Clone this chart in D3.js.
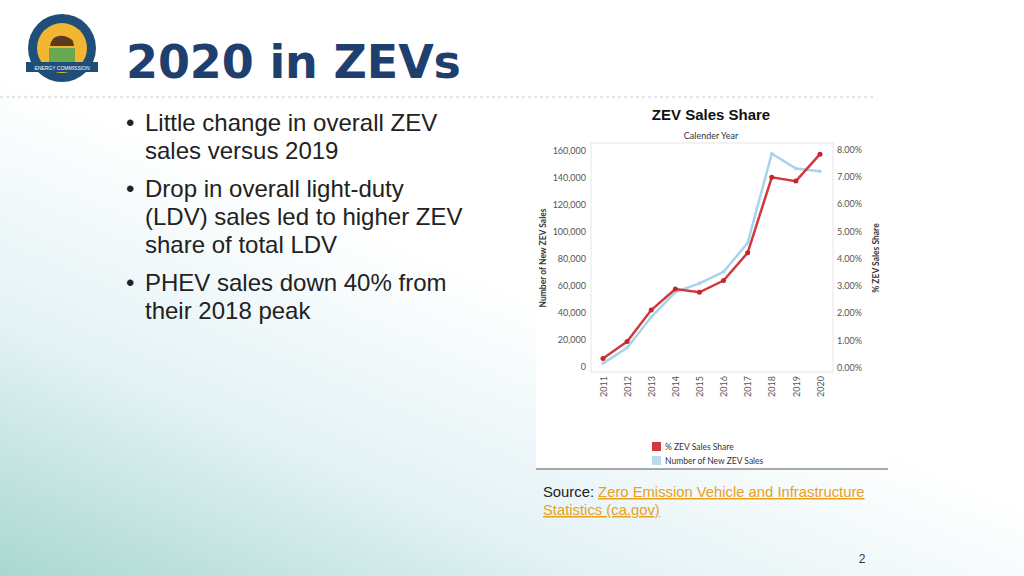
<!DOCTYPE html>
<html><head><meta charset="utf-8">
<script src="https://cdn.jsdelivr.net/npm/d3@7/dist/d3.min.js"></script>
<style>body{margin:0;overflow:hidden}svg{display:block}</style></head>
<body><svg id="s" width="1024" height="576"></svg>
<script>
const years = [2011,2012,2013,2014,2015,2016,2017,2018,2019,2020];
const shareValues = [0.33,0.95,2.11,2.88,2.76,3.19,4.21,6.98,6.84,7.83];
const salesValues = [2700,14300,37000,55500,62000,70500,92000,158000,147000,145000];
const leftTicks = [0,20000,40000,60000,80000,100000,120000,140000,160000];
const rightTicks = [0,1,2,3,4,5,6,7,8];
const bullets = [["Little change in overall ZEV","sales versus 2019"],["Drop in overall light-duty","(LDV) sales led to higher ZEV","share of total LDV"],["PHEV sales down 40% from","their 2018 peak"]];

const svg = d3.select("#s");
const defs = svg.append("defs");
const g1 = defs.append("linearGradient").attr("id","bg").attr("x1","0").attr("y1","1").attr("x2","0.6").attr("y2","0.2");
g1.append("stop").attr("offset","0").attr("stop-color","#a9d8cf");
g1.append("stop").attr("offset","0.35").attr("stop-color","#e3f2f5");
g1.append("stop").attr("offset","0.7").attr("stop-color","#ffffff");
svg.append("rect").attr("width",1024).attr("height",576).attr("fill","url(#bg)");
svg.append("rect").attr("x",536).attr("y",100).attr("width",352).attr("height",369).attr("fill","#fff");

// header
svg.append("line").attr("x1",0).attr("x2",875).attr("y1",97).attr("y2",97).attr("stroke","#ccc").attr("stroke-dasharray","3,3");
const lg = svg.append("g").attr("transform","translate(62,48)");
lg.append("circle").attr("r",34).attr("fill","#1f4e79");
lg.append("circle").attr("r",25).attr("fill","#f2b632");
lg.append("rect").attr("x",-13).attr("y",0).attr("width",26).attr("height",14).attr("fill","#6aa84f");
lg.append("rect").attr("x",-36).attr("y",14).attr("width",72).attr("height",10).attr("fill","#1f4e79");
lg.append("text").attr("y",22).attr("text-anchor","middle").attr("font-size",5).attr("fill","#fff").attr("font-family","Liberation Sans").text("ENERGY COMMISSION");
lg.append("path").attr("d","M-12,-2 Q-10,-14 2,-12 Q12,-10 12,-2 Z").attr("fill","#5b3a1e");
svg.append("text").attr("x",126).attr("y",78).attr("font-family","DejaVu Sans").attr("font-weight","bold").attr("font-size",46).attr("textLength",335).attr("fill","#1f3f6e").text("2020 in ZEVs");

// bullets
let y = 131;
bullets.forEach(b=>{
  b.forEach((l,i)=>{
    if(i===0) svg.append("text").attr("x",126).attr("y",y).attr("font-family","Liberation Sans, Arial").attr("font-size",24).attr("fill","#222").text("•");
    svg.append("text").attr("x",145).attr("y",y).attr("font-family","Liberation Sans, Arial").attr("font-size",24).attr("fill","#222").text(l);
    y += 28;
  });
  y += 10;
});

// chart
const x = d3.scalePoint().domain(years).range([603,820]);
const yL = d3.scaleLinear().domain([0,160000]).range([367,151]);
const yR = d3.scaleLinear().domain([0,8]).range([367.5,149.5]);
svg.append("rect").attr("x",591).attr("y",143).attr("width",242).attr("height",229).attr("fill","none").attr("stroke","#e6e6e6");
const f = "Lato, Open Sans, sans-serif";
svg.append("text").attr("x",711).attr("y",120).attr("text-anchor","middle").attr("font-family","Liberation Sans").attr("font-weight","bold").attr("font-size",15).attr("fill","#111").text("ZEV Sales Share");
svg.append("text").attr("x",711).attr("y",139).attr("text-anchor","middle").attr("font-family",f).attr("font-size",9).attr("fill","#333").text("Calender Year");
const aL = svg.append("g").attr("transform","translate(591,0)").call(d3.axisLeft(yL).tickValues(leftTicks).tickFormat(d3.format(",")).tickSize(0).tickPadding(5));
const aR = svg.append("g").attr("transform","translate(833,0)").call(d3.axisRight(yR).tickValues(rightTicks).tickFormat(d=>d.toFixed(2)+"%").tickSize(0).tickPadding(4));
const aX = svg.append("g").attr("transform","translate(0,372)").call(d3.axisBottom(x).tickSize(0).tickPadding(4));
aX.selectAll("text").attr("transform","rotate(-90)").attr("text-anchor","end").attr("x",-4).attr("y",0).attr("dy","0.35em");
[aL,aR,aX].forEach(a=>{a.select(".domain").remove();a.selectAll("text").attr("font-family",f).attr("font-size",9).attr("fill","#555");});
svg.append("text").attr("transform","translate(546,258) rotate(-90)").attr("text-anchor","middle").attr("font-family",f).attr("font-weight","bold").attr("font-size",8.5).attr("fill","#333").text("Number of New ZEV Sales");
svg.append("text").attr("transform","translate(879,258) rotate(-90)").attr("text-anchor","middle").attr("font-family",f).attr("font-weight","bold").attr("font-size",8.5).attr("fill","#333").text("% ZEV Sales Share");

svg.append("path").datum(salesValues).attr("fill","none").attr("stroke","#a8d4ea").attr("stroke-width",2.5)
  .attr("d",d3.line().x((d,i)=>x(years[i])).y(d=>yL(d)));
svg.selectAll(".bp").data(salesValues).join("circle").attr("cx",(d,i)=>x(years[i])).attr("cy",d=>yL(d)).attr("r",1.8).attr("fill","#a8d4ea");
svg.append("path").datum(shareValues).attr("fill","none").attr("stroke","#d0393e").attr("stroke-width",2.5)
  .attr("d",d3.line().x((d,i)=>x(years[i])).y(d=>yR(d)));
svg.selectAll(".rp").data(shareValues).join("circle").attr("cx",(d,i)=>x(years[i])).attr("cy",d=>yR(d)).attr("r",2.5).attr("fill","#c3272c");

// legend
[["% ZEV Sales Share","#d0393e"],["Number of New ZEV Sales","#b9dcef"]].forEach((l,i)=>{
  svg.append("rect").attr("x",652).attr("y",442+i*14).attr("width",9).attr("height",9).attr("fill",l[1]);
  svg.append("text").attr("x",665).attr("y",450+i*14).attr("font-family",f).attr("font-size",8.5).attr("fill","#333").text(l[0]);
});
svg.append("line").attr("x1",536).attr("x2",888).attr("y1",469).attr("y2",469).attr("stroke","#555");

// source
const st = svg.append("text").attr("x",543).attr("y",497).attr("font-family","Liberation Sans, Arial").attr("font-size",14.8).attr("fill","#222");
st.append("tspan").text("Source: ");
st.append("tspan").attr("fill","#e8a020").attr("text-decoration","underline").text("Zero Emission Vehicle and Infrastructure");
svg.append("text").attr("x",543).attr("y",515).attr("font-family","Liberation Sans, Arial").attr("font-size",14.8).attr("fill","#e8a020").attr("text-decoration","underline").text("Statistics (ca.gov)");
svg.append("text").attr("x",862).attr("y",563).attr("text-anchor","middle").attr("font-family","Liberation Sans, Arial").attr("font-size",12).attr("fill","#333").text("2");
</script></body></html>
